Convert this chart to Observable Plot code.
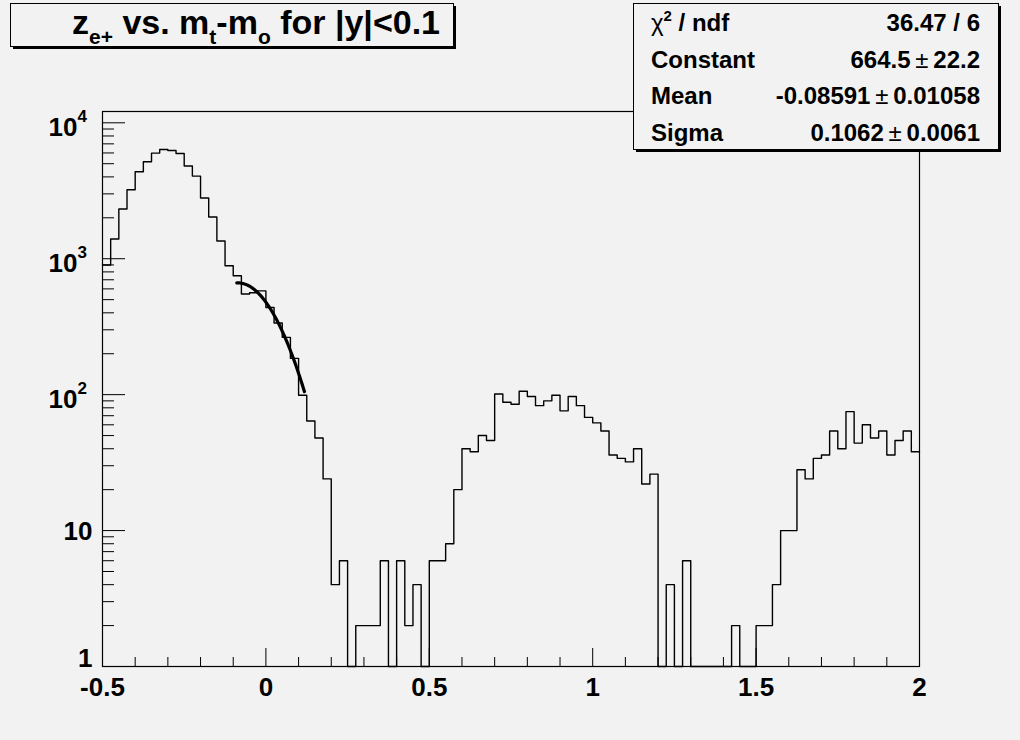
<!DOCTYPE html>
<html><head><meta charset="utf-8">
<script src="https://cdn.jsdelivr.net/npm/d3@7"></script>
<script src="https://cdn.jsdelivr.net/npm/@observablehq/plot@0.6"></script>
<style>
html,body{margin:0;padding:0;background:#f2f2f2;}
#chart{width:1020px;height:740px;}
text{white-space:pre;}
</style></head><body><div id="chart"></div>
<script>
// ---- data ----
const binStart = -0.5;
const binWidth = 0.025;
const counts = [
  900, 1396, 2319, 3215, 4365, 5167, 5986, 6366, 6253, 5946,
  4806, 4055, 2794, 2026, 1349, 888, 750, 550, 562, 580,
  438, 337, 264, 185, 99, 64, 48, 24, 4, 6,
  0, 2, 2, 2, 6, 0, 6, 2, 4, 0,
  6, 6, 8, 20, 40, 38, 50, 46, 101, 88,
  85, 106, 97, 83, 90, 99, 76, 97, 83, 68,
  62, 54, 36, 34, 32, 40, 22, 26, 0, 4,
  0, 6, 0, 0, 0, 0, 0, 2, 0, 0,
  2, 2, 4, 10, 10, 28, 24, 34, 36, 54,
  40, 75, 44, 60, 48, 54, 36, 46, 54, 38
];
const fitConstant = 664.5;
const fitMean = -0.08591;
const fitSigma = 0.1062;
const fitRange = [-0.089, 0.118];

const xMajorTicks = [-0.5, 0, 0.5, 1, 1.5, 2];
const xTickLabels = ["-0.5", "0", "0.5", "1", "1.5", "2"];
const xMinorTicks = [-0.4,-0.3,-0.2,-0.1,0.1,0.2,0.3,0.4,0.6,0.7,0.8,0.9,1.1,1.2,1.3,1.4,1.6,1.7,1.8,1.9];
const yMajorTicks = [1, 10, 100, 1000, 10000];
const yTickBase = ["1", "10", "10", "10", "10"];
const yTickExp = ["", "", "2", "3", "4"];
const yMinorTicks = [2,3,4,5,6,7,8,9,20,30,40,50,60,70,80,90,200,300,400,500,600,700,800,900,2000,3000,4000,5000,6000,7000,8000,9000];
const yTop = 12110;

const statsLabels = ["χ", "Constant", "Mean", "Sigma"];
const statsValueMain = ["36.47 / 6", "664.5", "-0.08591", "0.1062"];
const statsValueErr = ["", "22.2", "0.01058", "0.0061"];

// ---- derived tables ----
const histPts = counts.map((c, i) => ({x: binStart + i * binWidth, y: Math.max(c, 1)}));
histPts.push({x: binStart + counts.length * binWidth, y: Math.max(counts[counts.length - 1], 1)});

const fitPts = d3.range(0, 81).map(k => {
  const x = fitRange[0] + (fitRange[1] - fitRange[0]) * k / 80;
  return {x, y: fitConstant * Math.exp(-0.5 * ((x - fitMean) / fitSigma) ** 2)};
});

const yLabelRows = yMajorTicks.map((v, i) => ({v, base: yTickBase[i], exp: yTickExp[i]}));
const xLabelRows = xMajorTicks.map((v, i) => ({v, label: xTickLabels[i]}));

const BG = "#f2f2f2";
const FONT = "'Liberation Sans', Arial, Helvetica, sans-serif";
const W = 1020, H = 740, ML = 102, MR = 101, MT = 111, MB = 74;
const frameH = H - MT - MB, frameW = W - ML - MR;

const svg = Plot.plot({
  width: W, height: H,
  marginLeft: ML, marginRight: MR, marginTop: MT, marginBottom: MB,
  style: {background: BG, fontFamily: FONT, overflow: "visible"},
  x: {domain: [-0.5, 2], axis: null},
  y: {type: "log", domain: [1, yTop], axis: null},
  marks: [
    Plot.line(histPts, {x: "x", y: "y", curve: "step-after", stroke: "#000", strokeWidth: 1.4}),
    Plot.line(fitPts, {x: "x", y: "y", stroke: "#000", strokeWidth: 3.2}),
    Plot.ruleX(xMajorTicks, {x: d => d, insetTop: frameH - 18, stroke: "#000"}),
    Plot.ruleX(xMinorTicks, {x: d => d, insetTop: frameH - 9, stroke: "#000"}),
    Plot.ruleY(yMajorTicks, {y: d => d, insetRight: frameW - 23, stroke: "#000"}),
    Plot.ruleY(yMinorTicks, {y: d => d, insetRight: frameW - 12, stroke: "#000"}),
    Plot.frame({stroke: "#000", strokeWidth: 1.2}),
    Plot.text(xLabelRows, {x: "v", text: "label", frameAnchor: "bottom", lineAnchor: "bottom", dy: 29,
      fontSize: 26, fontWeight: "bold", fill: "#000"}),
    Plot.text(yLabelRows.filter(d => d.base === "1"), {y: "v", text: "base", frameAnchor: "left", textAnchor: "end",
      lineAnchor: "middle", dx: -10, dy: -8, fontSize: 26, fontWeight: "bold", fill: "#000"}),
    Plot.text(yLabelRows.filter(d => d.base === "10" && d.exp === ""), {y: "v", text: "base", frameAnchor: "left", textAnchor: "end",
      lineAnchor: "middle", dx: -10, dy: 1, fontSize: 26, fontWeight: "bold", fill: "#000"}),
    Plot.text(yLabelRows.filter(d => d.exp !== ""), {y: "v", text: "base", frameAnchor: "left", textAnchor: "end",
      lineAnchor: "middle", dx: -25, dy: 5, fontSize: 26, fontWeight: "bold", fill: "#000"}),
    Plot.text(yLabelRows.filter(d => d.exp !== ""), {y: "v", text: "exp", frameAnchor: "left", textAnchor: "start",
      lineAnchor: "middle", dx: -25, dy: -6, fontSize: 17, fontWeight: "bold", fill: "#000"})
  ]
});
document.getElementById("chart").appendChild(svg);

const s = d3.select(svg);

// title box
const tb = s.append("g").attr("text-anchor", "start");
tb.append("rect").attr("x", 13).attr("y", 6).attr("width", 443).attr("height", 43).attr("fill", "#000");
tb.append("rect").attr("x", 10.5).attr("y", 3.5).attr("width", 443).attr("height", 43)
  .attr("fill", BG).attr("stroke", "#000").attr("stroke-width", 1);
const tt = tb.append("text").attr("x", 72).attr("y", 34).attr("text-anchor", "start").attr("font-size", 34)
  .attr("font-weight", "bold").attr("font-family", FONT).attr("fill", "#000");
const titleParts = [["z", 0], ["e+", 1], [" vs. m", 0], ["t", 1], ["-m", 0], ["o", 1], [" for |y|<0.1", 0]];
let prevSub = 0;
titleParts.forEach(([t, sub]) => {
  const sp = tt.append("tspan").text(t);
  if (sub) sp.attr("font-size", 21);
  const dy = (sub ? 10 : 0) - (prevSub ? 10 : 0);
  if (dy) sp.attr("dy", dy);
  prevSub = sub;
});

// stats box
const sb = s.append("g").attr("text-anchor", "start");
sb.append("rect").attr("x", 636).attr("y", 6).attr("width", 365).attr("height", 146).attr("fill", "#000");
sb.append("rect").attr("x", 633.5).attr("y", 3.5).attr("width", 365).attr("height", 146)
  .attr("fill", BG).attr("stroke", "#000").attr("stroke-width", 1);
const rowY = [31, 67.5, 104, 140.5];
statsLabels.forEach((lab, i) => {
  const t = sb.append("text").attr("x", 651).attr("y", rowY[i]).attr("text-anchor", "start").attr("font-size", 24)
    .attr("font-weight", "bold").attr("font-family", FONT).attr("fill", "#000");
  if (i === 0) {
    t.append("tspan").attr("font-weight", "normal").text(lab);
    t.append("tspan").attr("font-size", 15).attr("dy", -10).text("2");
    t.append("tspan").attr("dy", 10).text(" / ndf");
  } else {
    t.text(lab);
  }
  const v = sb.append("text").attr("x", 980).attr("y", rowY[i]).attr("text-anchor", "end").attr("font-size", 24)
    .attr("font-weight", "bold").attr("font-family", FONT).attr("fill", "#000");
  v.append("tspan").text(statsValueMain[i]);
  if (statsValueErr[i]) {
    v.append("tspan").attr("font-weight", "normal").text("\u2009±\u2009");
    v.append("tspan").text(statsValueErr[i]);
  }
});
</script></body></html>
